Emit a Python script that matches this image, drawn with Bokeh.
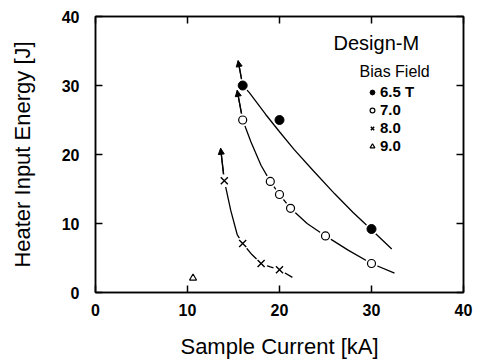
from bokeh.plotting import figure
from bokeh.models import (Range1d, LinearAxis, FixedTicker, Arrow, NormalHead,
                          Label, Legend, LegendItem)
from bokeh.embed import file_html
from bokeh.resources import INLINE

# ---- data ----
x_ticks = [0, 10, 20, 30, 40]
y_ticks = [0, 10, 20, 30, 40]

I_65 = [16.0, 20.0, 30.0]
E_65 = [30.0, 25.0, 9.2]
I_70 = [16.0, 19.0, 20.0, 21.2, 25.0, 30.0]
E_70 = [25.0, 16.1, 14.2, 12.2, 8.2, 4.2]
I_80 = [14.0, 16.0, 18.0, 20.0]
E_80 = [16.2, 7.1, 4.2, 3.3]
I_90 = [10.6]
E_90 = [2.1]

# hand-drawn guide curves (first point = arrow tip)
curve_65_I = [15.5, 16.0, 16.7, 18.5, 20.0, 21.6, 23.7, 26.0, 28.0, 30.0, 32.2]
curve_65_E = [33.6, 30.0, 29.0, 25.8, 23.3, 20.7, 17.6, 14.3, 11.6, 9.1, 6.3]
curve_70_I = [15.4, 16.0, 16.9, 18.0, 19.0, 20.0, 21.2, 23.0, 25.0, 27.5, 30.0, 32.5]
curve_70_E = [29.3, 25.0, 21.8, 18.4, 16.1, 14.2, 12.2, 10.0, 8.2, 6.1, 4.2, 2.8]
curve_80_I = [13.6, 14.0, 14.7, 15.4, 16.0, 17.0, 18.0, 19.0, 20.0, 21.4]
curve_80_E = [20.9, 16.2, 11.9, 8.4, 7.1, 5.5, 4.2, 3.7, 3.3, 2.2]

labels = ["6.5 T", "7.0", "8.0", "9.0"]

FONT = "Liberation Sans"

p = figure(width=477, height=361, output_backend="svg", toolbar_location=None,
           x_range=Range1d(0, 40), y_range=Range1d(0, 40),
           min_border_left=95, min_border_right=14, min_border_top=16,
           min_border_bottom=69, x_axis_label="Sample Current [kA]",
           y_axis_label="Heater Input Energy [J]")
p.grid.visible = False
p.outline_line_color = "black"
p.outline_line_width = 1.5

for ax, ticks in ((p.xaxis[0], x_ticks), (p.yaxis[0], y_ticks)):
    ax.ticker = FixedTicker(ticks=ticks)
    ax.major_tick_in = 7
    ax.major_tick_out = 0
    ax.minor_tick_line_color = None
    ax.axis_line_width = 1.5
    ax.major_tick_line_width = 1.5
    ax.major_label_text_font = FONT
    ax.major_label_text_font_style = "bold"
    ax.major_label_text_font_size = "16px"
    ax.major_label_text_color = "black"
    ax.axis_label_text_font = FONT
    ax.axis_label_text_font_style = "normal"
    ax.axis_label_text_font_size = "22px"
    ax.axis_label_text_color = "black"
p.xaxis.major_label_standoff = 11
p.xaxis.axis_label_standoff = 15
p.yaxis.major_label_standoff = 16
p.yaxis.axis_label_standoff = 24

for place, ticks in (("above", x_ticks), ("right", y_ticks)):
    ax = LinearAxis(ticker=FixedTicker(ticks=ticks), major_tick_in=7,
                    major_tick_out=0, minor_tick_line_color=None,
                    major_label_text_font_size="1px", major_label_text_color=None,
                    major_label_standoff=0,
                    axis_line_width=1.5, major_tick_line_width=1.5)
    p.add_layout(ax, place)

# curves
curves = [(curve_65_I, curve_65_E), (curve_70_I, curve_70_E), (curve_80_I, curve_80_E)]
for cx, cy in curves:
    p.line(cx, cy, line_color="black", line_width=1.3)
    p.add_layout(Arrow(end=NormalHead(size=6, fill_color="black", line_color="black"),
                       x_start=cx[1], y_start=cy[1], x_end=cx[0], y_end=cy[0],
                       line_width=1.3, line_color="black", level="underlay"))

# white masks to open small gaps around markers
for xs, ys in ((I_65, E_65), (I_70, E_70), (I_80, E_80), (I_90, E_90)):
    p.scatter(xs, ys, size=13, fill_color="white", line_color=None)

r65 = p.scatter(I_65, E_65, marker="circle", size=9, fill_color="black", line_color="black")
r70 = p.scatter(I_70, E_70, marker="circle", size=8, fill_color="white", line_color="black", line_width=1.2)
r80 = p.scatter(I_80, E_80, marker="x", size=10, line_color="black", line_width=1.4)
r90 = p.scatter(I_90, E_90, marker="triangle", size=7, fill_color="white", line_color="black", line_width=1.2)

legend = Legend(items=[LegendItem(label=l, renderers=[r]) for l, r in zip(labels, [r65, r70, r80, r90])],
                location=(271, 138), glyph_width=12, glyph_height=16, label_height=16,
                spacing=1, label_standoff=2, padding=0, margin=0,
                border_line_color=None, background_fill_alpha=0,
                label_text_font=FONT, label_text_font_style="bold",
                label_text_font_size="15px", label_text_color="black")
p.add_layout(legend)

p.add_layout(Label(x=238, y=239, x_units="screen", y_units="screen", text="Design-M",
                   text_font=FONT, text_font_size="20px", text_color="black"))
p.add_layout(Label(x=264, y=213, x_units="screen", y_units="screen", text="Bias Field",
                   text_font=FONT, text_font_size="16px", text_color="black"))

open("out.html", "w").write(file_html(p, INLINE))
